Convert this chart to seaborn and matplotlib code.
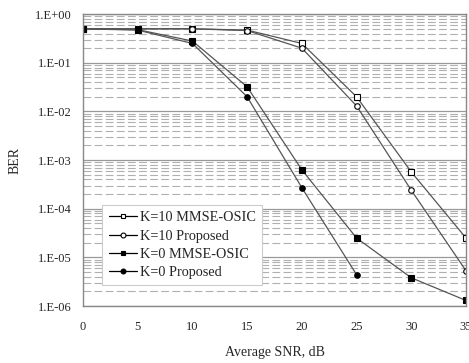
import matplotlib
matplotlib.use("Agg")
import matplotlib.pyplot as plt
import seaborn as sns
import numpy as np
import pandas as pd
from matplotlib.ticker import LogLocator, FixedLocator, NullFormatter

snr = [0, 5, 10, 15, 20, 25, 30, 35]
snr_k0p = [0, 5, 10, 15, 20, 25]
k10_mmse = [0.5, 0.5, 0.5, 0.47, 0.25, 0.02, 5.7e-4, 2.5e-5]
k10_prop = [0.5, 0.5, 0.5, 0.46, 0.2, 0.013, 2.4e-4, 5.3e-6]
k0_mmse = [0.5, 0.48, 0.28, 0.032, 6.3e-4, 2.5e-5, 3.8e-6, 1.3e-6]
k0_prop = [0.5, 0.47, 0.25, 0.02, 2.7e-4, 4.4e-6]
labels = ["K=10 MMSE-OSIC", "K=10 Proposed", "K=0 MMSE-OSIC", "K=0 Proposed"]
yticklabels = ["1.E-06", "1.E-05", "1.E-04", "1.E-03", "1.E-02", "1.E-01", "1.E+00"]

sns.set_style("white")
plt.rcParams['font.family'] = ['Liberation Serif', 'DejaVu Serif']

fig = plt.figure(figsize=(4.69, 3.63), dpi=100)
ax = fig.add_axes([0.177, 0.157, 0.8166, 0.804])

series = [
    (snr, k10_mmse, labels[0], 's', 'white', 4.5),
    (snr, k10_prop, labels[1], 'o', 'white', 4),
    (snr, k0_mmse, labels[2], 's', 'black', 5),
    (snr_k0p, k0_prop, labels[3], 'o', 'black', 4),
]
for x, y, lab, m, fc, ms in series:
    df = pd.DataFrame({"snr": x, "ber": y})
    sns.lineplot(data=df, x="snr", y="ber", ax=ax, color='#555555', lw=0.9,
                 marker=m, markersize=ms, markerfacecolor=fc,
                 markeredgecolor='black', markeredgewidth=0.8, label=lab)

ax.set_yscale('log')
ax.set_ylim(1e-6, 1)
ax.set_xlim(0, 35)
ax.yaxis.set_major_locator(FixedLocator([10.0**k for k in range(-6, 1)]))
ax.set_yticklabels(yticklabels)
ax.yaxis.set_minor_locator(LogLocator(base=10, subs=np.arange(2, 10)))
ax.yaxis.set_minor_formatter(NullFormatter())
ax.set_xticks(snr)
ax.grid(True, which='major', axis='y', color='#999999', lw=0.9, ls='-')
ax.grid(True, which='minor', axis='y', color='#b0b0b0', lw=0.8, ls=(0, (7, 3)))
ax.grid(False, axis='x')
ax.tick_params(axis='y', which='both', length=0, labelsize=9, pad=8)
ax.tick_params(axis='x', which='major', direction='in', length=3, color='#888888',
               labelsize=9, pad=11)
for s in ax.spines.values():
    s.set_color('#888888')
    s.set_linewidth(1.0)
ax.set_xlabel("Average SNR, dB", fontsize=10, labelpad=9)
ax.set_ylabel("BER", fontsize=10, labelpad=10)

leg = ax.legend(loc='lower left', bbox_to_anchor=(0.05, 0.072), fontsize=10.3,
                frameon=True, fancybox=False, edgecolor='#cccccc', framealpha=1,
                handlelength=2.0, borderpad=0.45, labelspacing=0.35, handletextpad=0.2,
                borderaxespad=0)
leg.get_frame().set_linewidth(0.8)
for h in leg.legend_handles:
    h.set_markersize(3.5)
    h.set_color('black')

fig.savefig("out.png", dpi=100)
